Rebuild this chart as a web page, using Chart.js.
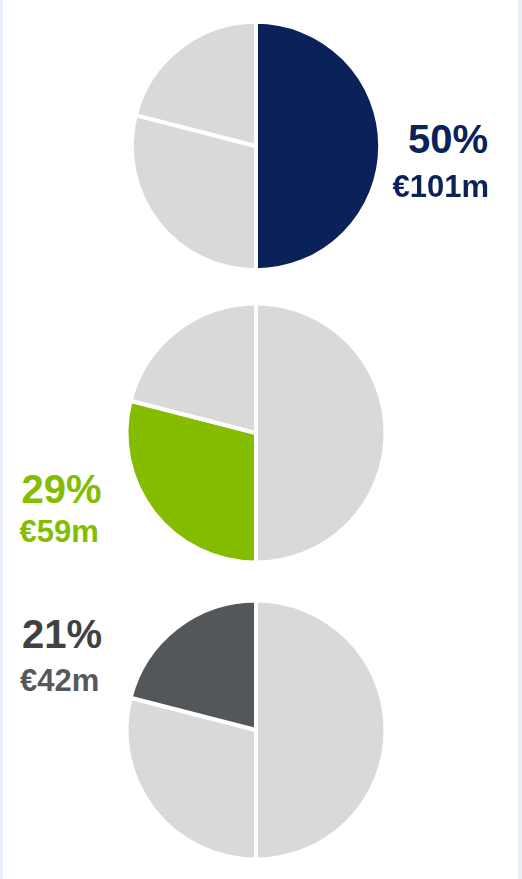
<!DOCTYPE html>
<html>
<head>
<meta charset="utf-8">
<script src="https://cdn.jsdelivr.net/npm/chart.js@4/dist/chart.umd.min.js"></script>
<style>
  html, body { margin: 0; padding: 0; }
  body { width: 522px; height: 879px; background: #e9eff6; position: relative; overflow: hidden; }
  #panel { position: absolute; left: 3px; top: 0; width: 515px; height: 879px; background: #fff; }
  .pie { position: absolute; width: 300px; height: 300px; }
  .lbl { position: absolute; font-family: "Liberation Sans", Arial, sans-serif; font-weight: bold; line-height: 1; white-space: nowrap; }
</style>
</head>
<body>
<div id="panel"></div>
<canvas id="pie-0" class="pie" width="300" height="300"></canvas>
<canvas id="pie-1" class="pie" width="300" height="300"></canvas>
<canvas id="pie-2" class="pie" width="300" height="300"></canvas>
<div id="labels"></div>
<script>
// Share of total per segment and the amount behind it
let shares = [50, 29, 21];
let amounts = [101, 59, 42];
let segmentColors = ['#0a2259', '#84bd00', '#54575a'];
let otherColor = '#d9d9d9';

// Layout for each pie and its label block
let pieLayout = [
    { cx: 255.5, cy: 145.5, r: 122.2 },
    { cx: 255.5, cy: 432.5, r: 127.5 },
    { cx: 255.5, cy: 730.0, r: 127.5 }
];
let labelLayout = [
    { side: 'right', x: 34, pctTop: 119, amtTop: 171, pctColor: '#0a2259', amtColor: '#0a2259' },
    { side: 'left', x: 21.5, pctTop: 469, amtTop: 516, pctColor: '#84bd00', amtColor: '#84bd00' },
    { side: 'left', x: 22, pctTop: 614, amtTop: 665, pctColor: '#404143', amtColor: '#56585b' }
];

const BORDER = 4;

function drawPie(i) {
    let layout = pieLayout[i];
    let canvas = document.getElementById('pie-' + i);
    canvas.style.left = (layout.cx - 150) + 'px';
    canvas.style.top = (layout.cy - 150) + 'px';

    let colors = shares.map((_, j) => j === i ? segmentColors[i] : otherColor);

    return new Chart(canvas.getContext('2d'), {
        type: 'pie',
        data: {
            labels: shares.map(s => s + '%'),
            datasets: [{
                data: shares,
                backgroundColor: colors,
                borderColor: '#ffffff',
                borderWidth: BORDER
            }]
        },
        options: {
            responsive: false,
            animation: false,
            radius: layout.r + BORDER / 2,
            layout: { padding: 0 },
            plugins: {
                legend: { display: false },
                tooltip: { enabled: false }
            }
        }
    });
}

function addLabel(text, top, size, color, side, x) {
    let el = document.createElement('div');
    el.className = 'lbl';
    el.textContent = text;
    el.style.top = top + 'px';
    el.style.fontSize = size + 'px';
    el.style.color = color;
    el.style[side] = x + 'px';
    document.getElementById('labels').appendChild(el);
}

shares.forEach((share, i) => {
    drawPie(i);
    let l = labelLayout[i];
    addLabel(share + '%', l.pctTop, 40, l.pctColor, l.side, l.x);
    addLabel('€' + amounts[i] + 'm', l.amtTop, 31, l.amtColor, l.side, l.side === 'right' ? l.x - 1 : l.x - 2);
});
</script>
</body>
</html>
